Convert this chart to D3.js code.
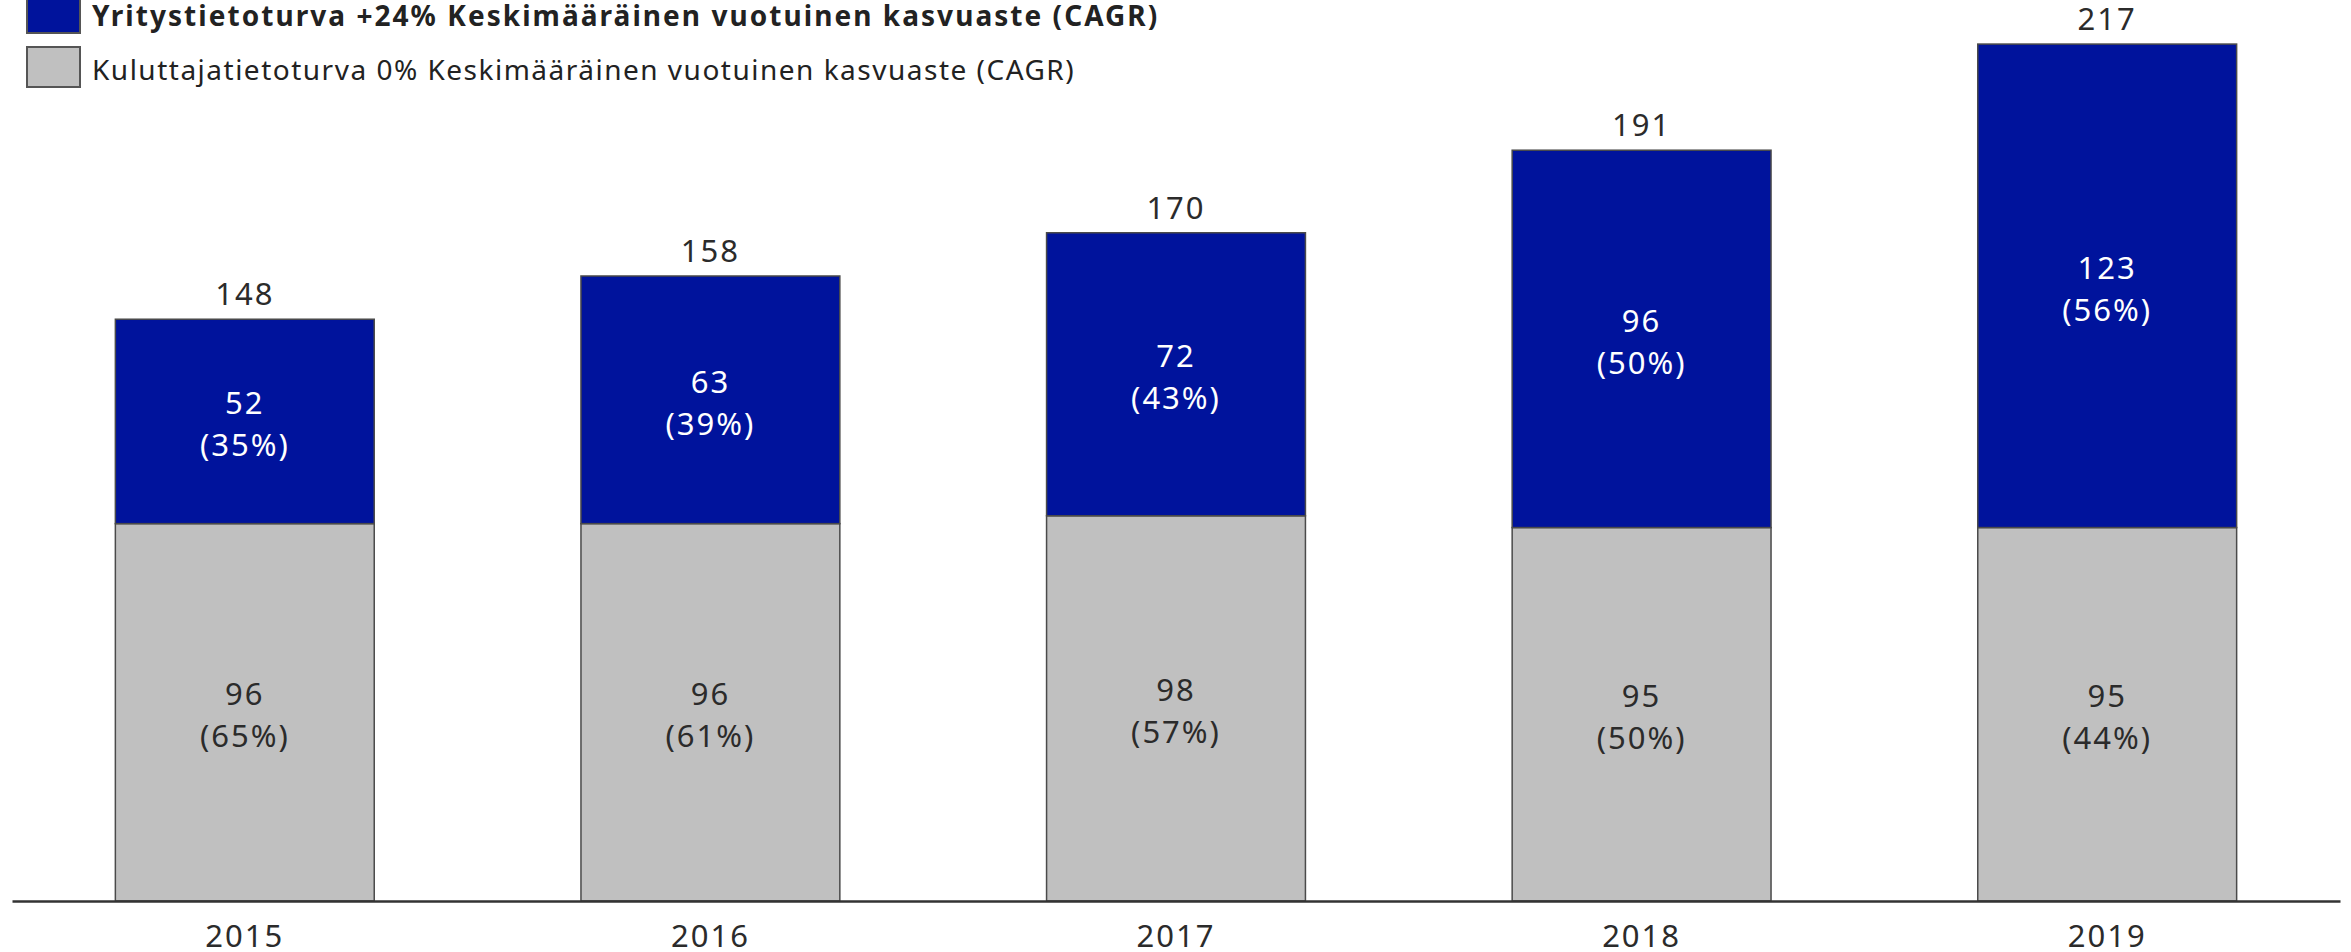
<!DOCTYPE html>
<html>
<head>
<meta charset="utf-8">
<script src="https://cdn.jsdelivr.net/npm/d3@7"></script>
<style>
  body { margin: 0; background: #fff; }
  text { font-family: "Noto Sans", "Open Sans", sans-serif; }
</style>
</head>
<body>
<div id="chart"></div>
<script>
var w = 2351
var h = 952

var years = ["2015", "2016", "2017", "2018", "2019"];
var business = [52, 63, 72, 96, 123];     // Yritystietoturva
var consumer = [96, 96, 98, 95, 95];      // Kuluttajatietoturva
var businessPct = ["35%", "39%", "43%", "50%", "56%"];
var consumerPct = ["65%", "61%", "57%", "50%", "44%"];
var totals = [148, 158, 170, 191, 217];

var legendLabels = [
  "Yritystietoturva +24% Keskimääräinen vuotuinen kasvuaste (CAGR)",
  "Kuluttajatietoturva 0% Keskimääräinen vuotuinen kasvuaste (CAGR)"
];

var blue = "#00139c";
var grey = "#c0c0c0";

var baseY = 901;

var svg = d3.select("#chart").append("svg")
    .attr("width", w)
    .attr("height", h);

var x = d3.scaleBand()
    .domain(years)
    .range([12, 2340])
    .paddingInner(0.444)
    .paddingOuter(0.222);

var y = d3.scaleLinear()
    .domain([0, 217])
    .range([baseY, 48]);

var rows = years.map(function(d, i) {
  return { year: d, consumer: consumer[i], business: business[i], i: i };
});

var stack = d3.stack().keys(["consumer", "business"]);
var series = stack(rows);

var pctLookup = { consumer: consumerPct, business: businessPct };
var fills = { consumer: grey, business: blue };
var textFill = { consumer: "#2b2b2b", business: "#ffffff" };

var layer = svg.selectAll("g.layer").data(series).enter()
  .append("g")
    .attr("class", "layer");

layer.selectAll("rect").data(function(s) { return s; }).enter()
  .append("rect")
    .attr("x", function(d) { return x(d.data.year); })
    .attr("width", x.bandwidth())
    .attr("y", function(d) { return y(d[1]); })
    .attr("height", function(d) { return y(d[0]) - y(d[1]); })
    .attr("fill", function() { return fills[d3.select(this.parentNode).datum().key]; })
    .attr("stroke", "#4a4a4a")
    .attr("stroke-width", 1.5);

// value + share labels inside segments
layer.each(function(s) {
  var g = d3.select(this);
  var lbl = g.selectAll("text.val").data(s).enter()
    .append("text")
      .attr("class", "val")
      .attr("text-anchor", "middle")
      .style("font-size", "31px")
      .style("letter-spacing", "2px")
      .style("fill", textFill[s.key]);
  lbl.append("tspan")
      .attr("x", function(d) { return x(d.data.year) + x.bandwidth() / 2; })
      .attr("y", function(d) { return (y(d[0]) + y(d[1])) / 2 - 7; })
      .text(function(d) { return d.data[s.key]; });
  lbl.append("tspan")
      .attr("x", function(d) { return x(d.data.year) + x.bandwidth() / 2; })
      .attr("y", function(d) { return (y(d[0]) + y(d[1])) / 2 + 35; })
      .text(function(d) { return "(" + pctLookup[s.key][d.data.i] + ")"; });
});

// totals above bars
svg.selectAll("text.total").data(rows).enter()
  .append("text")
    .attr("class", "total")
    .attr("text-anchor", "middle")
    .attr("x", function(d) { return x(d.year) + x.bandwidth() / 2; })
    .attr("y", function(d) { return y(d.consumer + d.business) - 14; })
    .style("font-size", "31px")
    .style("letter-spacing", "2px")
    .style("fill", "#2b2b2b")
    .text(function(d, i) { return totals[i]; });

// x axis
var axis = svg.append("g")
    .attr("transform", "translate(0," + baseY + ")")
    .call(d3.axisBottom(x).tickSize(0).tickSizeOuter(0));

axis.select(".domain")
    .attr("stroke", "#333")
    .attr("stroke-width", 2.5);

axis.selectAll("text")
    .attr("y", 46)
    .attr("dy", 0)
    .style("font-family", "'Noto Sans', 'Open Sans', sans-serif")
    .style("font-size", "31px")
    .style("letter-spacing", "2px")
    .style("fill", "#2b2b2b");

// legend
var legend = svg.selectAll("g.legend").data(legendLabels).enter()
  .append("g")
    .attr("class", "legend")
    .attr("transform", function(d, i) { return "translate(27," + (-7 + i * 54) + ")"; });

legend.append("rect")
    .attr("width", 53)
    .attr("height", 40)
    .attr("fill", function(d, i) { return i == 0 ? blue : grey; })
    .attr("stroke", "#555")
    .attr("stroke-width", 2);

legend.append("text")
    .attr("x", 65)
    .attr("y", 33)
    .style("font-size", "28px")
    .style("font-weight", function(d, i) { return i == 0 ? "bold" : "normal"; })
    .style("letter-spacing", function(d, i) { return i == 0 ? "2.05px" : "1.5px"; })
    .style("fill", "#222")
    .text(function(d) { return d; });
</script>
</body>
</html>
